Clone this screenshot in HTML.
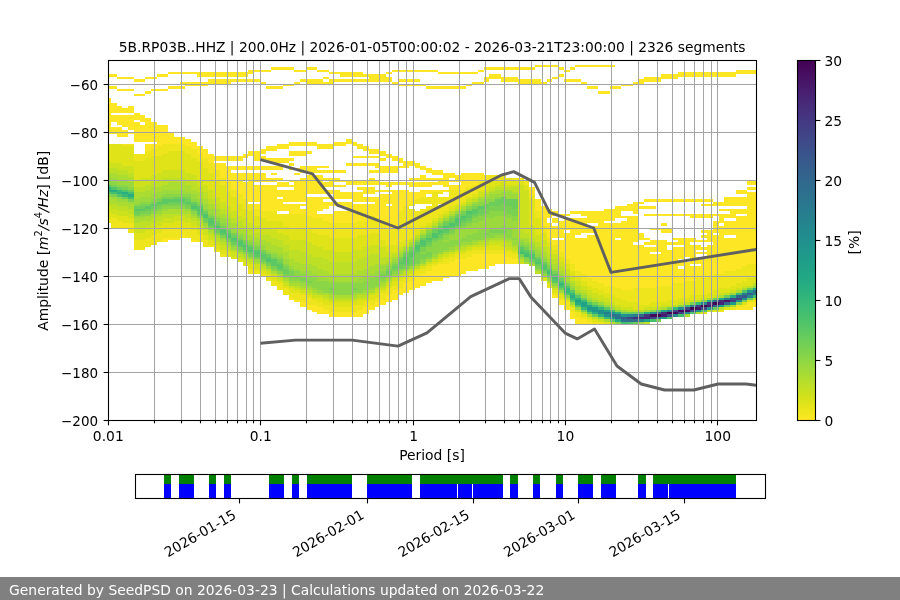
<!DOCTYPE html>
<html lang="en"><head><meta charset="utf-8"><title>SeedPSD PPSD</title>
<style>html,body{margin:0;padding:0;background:#fff;}body{width:900px;height:600px;overflow:hidden;}svg{display:block;will-change:transform;}text{font-family:'DejaVu Sans','Liberation Sans',sans-serif;font-size:13.89px;fill:#000;}</style>
</head><body>
<svg width="900" height="600" viewBox="0 0 900 600">
<rect x="0" y="0" width="900" height="600" fill="#ffffff"/>
<g shape-rendering="crispEdges">
<path fill="#fde725" d="M108 74h3v3h-3zM108 86h3v3h-3zM108 98h3v34h-3zM111 74h6v3h-6zM111 86h6v3h-6zM111 103h6v10h-6zM111 115h6v7h-6zM111 127h6v5h-6zM117 77h5v2h-5zM117 89h5v2h-5zM117 106h5v7h-5zM117 115h5v10h-5zM117 127h5v10h-5zM122 77h6v2h-6zM122 89h6v2h-6zM122 108h6v5h-6zM122 115h6v12h-6zM122 130h6v7h-6zM128 77h6v2h-6zM128 89h6v2h-6zM128 106h6v7h-6zM128 115h6v15h-6zM128 132h6v2h-6zM134 79h6v3h-6zM134 94h6v2h-6zM134 113h6v7h-6zM134 122h6v20h-6zM140 79h5v3h-5zM140 94h5v2h-5zM140 115h5v7h-5zM140 125h5v17h-5zM145 77h6v2h-6zM145 91h6v3h-6zM145 118h6v24h-6zM145 144h6v7h-6zM151 77h6v2h-6zM151 89h6v2h-6zM151 122h6v20h-6zM151 144h6v5h-6zM157 74h5v3h-5zM157 89h5v2h-5zM157 125h5v21h-5zM162 74h6v3h-6zM162 89h6v2h-6zM162 125h6v19h-6zM162 238h6v4h-6zM168 72h6v2h-6zM168 86h6v3h-6zM168 132h6v12h-6zM168 238h6v2h-6zM174 72h6v2h-6zM174 86h6v3h-6zM174 137h6v7h-6zM174 238h6v2h-6zM180 72h5v2h-5zM180 82h5v2h-5zM180 86h5v3h-5zM180 137h5v7h-5zM180 235h5v3h-5zM185 72h6v2h-6zM185 82h6v4h-6zM185 139h6v7h-6zM191 72h6v2h-6zM191 82h6v4h-6zM191 142h6v7h-6zM191 240h6v2h-6zM197 72h6v5h-6zM197 82h6v4h-6zM197 146h6v8h-6zM203 72h5v5h-5zM203 82h5v4h-5zM203 149h5v9h-5zM208 72h6v5h-6zM208 79h6v5h-6zM208 154h6v9h-6zM214 72h6v5h-6zM214 79h6v5h-6zM214 156h6v5h-6zM214 163h6v7h-6zM220 72h6v5h-6zM220 79h6v5h-6zM220 156h6v5h-6zM220 163h6v15h-6zM226 72h5v5h-5zM226 79h5v5h-5zM226 156h5v5h-5zM226 166h5v16h-5zM231 72h6v5h-6zM231 79h6v3h-6zM231 156h6v5h-6zM231 166h6v4h-6zM231 173h6v17h-6zM237 72h6v5h-6zM237 79h6v3h-6zM237 156h6v5h-6zM237 166h6v4h-6zM237 173h6v21h-6zM243 72h5v5h-5zM243 79h5v3h-5zM243 154h5v4h-5zM243 166h5v4h-5zM243 173h5v7h-5zM243 182h5v17h-5zM248 70h6v4h-6zM248 79h6v3h-6zM248 151h6v5h-6zM248 166h6v4h-6zM248 173h6v29h-6zM254 70h6v2h-6zM254 79h6v3h-6zM254 151h6v10h-6zM254 166h6v4h-6zM254 173h6v9h-6zM254 185h6v17h-6zM254 204h6v5h-6zM260 70h6v2h-6zM260 82h6v2h-6zM260 149h6v5h-6zM260 156h6v5h-6zM260 166h6v4h-6zM260 173h6v9h-6zM260 185h6v26h-6zM266 70h5v2h-5zM266 86h5v3h-5zM266 146h5v5h-5zM266 158h5v3h-5zM266 166h5v4h-5zM266 178h5v4h-5zM266 185h5v26h-5zM271 67h6v3h-6zM271 86h6v3h-6zM271 146h6v5h-6zM271 158h6v5h-6zM271 166h6v4h-6zM271 173h6v2h-6zM271 178h6v4h-6zM271 185h6v26h-6zM277 67h6v3h-6zM277 86h6v3h-6zM277 144h6v5h-6zM277 158h6v5h-6zM277 166h6v4h-6zM277 178h6v2h-6zM277 182h6v5h-6zM277 190h6v7h-6zM277 199h6v12h-6zM283 67h6v3h-6zM283 84h6v2h-6zM283 144h6v5h-6zM283 158h6v5h-6zM283 182h6v5h-6zM283 190h6v12h-6zM283 204h6v7h-6zM289 67h5v3h-5zM289 84h5v2h-5zM289 142h5v4h-5zM289 151h5v5h-5zM289 158h5v3h-5zM289 163h5v3h-5zM289 168h5v2h-5zM289 180h5v2h-5zM289 185h5v2h-5zM289 190h5v12h-5zM289 204h5v10h-5zM289 298h5v2h-5zM294 70h6v2h-6zM294 82h6v2h-6zM294 142h6v4h-6zM294 151h6v5h-6zM294 168h6v2h-6zM294 173h6v2h-6zM294 180h6v22h-6zM294 204h6v10h-6zM294 300h6v2h-6zM300 70h6v2h-6zM300 79h6v3h-6zM300 142h6v4h-6zM300 151h6v5h-6zM300 166h6v7h-6zM300 178h6v24h-6zM300 204h6v2h-6zM300 209h6v5h-6zM300 302h6v5h-6zM306 67h6v3h-6zM306 79h6v5h-6zM306 142h6v4h-6zM306 151h6v3h-6zM306 166h6v7h-6zM306 175h6v19h-6zM306 197h6v19h-6zM306 305h6v5h-6zM312 67h5v3h-5zM312 79h5v5h-5zM312 142h5v4h-5zM312 166h5v7h-5zM312 175h5v19h-5zM312 197h5v21h-5zM312 305h5v7h-5zM317 70h6v2h-6zM317 79h6v5h-6zM317 144h6v5h-6zM317 166h6v2h-6zM317 170h6v3h-6zM317 175h6v19h-6zM317 197h6v14h-6zM317 214h6v4h-6zM317 307h6v7h-6zM323 70h6v2h-6zM323 77h6v2h-6zM323 82h6v2h-6zM323 144h6v5h-6zM323 166h6v2h-6zM323 170h6v3h-6zM323 178h6v2h-6zM323 182h6v5h-6zM323 190h6v4h-6zM323 197h6v2h-6zM323 202h6v7h-6zM323 214h6v7h-6zM323 310h6v4h-6zM329 72h5v2h-5zM329 79h5v5h-5zM329 144h5v5h-5zM329 170h5v3h-5zM329 178h5v9h-5zM329 190h5v4h-5zM329 197h5v2h-5zM329 202h5v4h-5zM329 214h5v9h-5zM329 312h5v5h-5zM334 72h6v2h-6zM334 79h6v3h-6zM334 142h6v4h-6zM334 170h6v3h-6zM334 178h6v4h-6zM334 185h6v2h-6zM334 190h6v9h-6zM334 202h6v4h-6zM334 211h6v12h-6zM334 312h6v5h-6zM340 72h6v5h-6zM340 79h6v3h-6zM340 142h6v4h-6zM340 170h6v3h-6zM340 180h6v2h-6zM340 185h6v2h-6zM340 192h6v7h-6zM340 202h6v4h-6zM340 211h6v12h-6zM340 312h6v5h-6zM346 72h6v5h-6zM346 79h6v3h-6zM346 139h6v5h-6zM346 163h6v3h-6zM346 180h6v5h-6zM346 192h6v7h-6zM346 202h6v7h-6zM346 211h6v12h-6zM346 312h6v5h-6zM352 72h5v5h-5zM352 79h5v3h-5zM352 142h5v4h-5zM352 156h5v2h-5zM352 163h5v3h-5zM352 180h5v5h-5zM352 192h5v10h-5zM352 204h5v19h-5zM352 312h5v5h-5zM357 72h6v5h-6zM357 79h6v3h-6zM357 144h6v5h-6zM357 156h6v2h-6zM357 163h6v3h-6zM357 180h6v5h-6zM357 187h6v3h-6zM357 192h6v10h-6zM357 204h6v17h-6zM357 310h6v7h-6zM363 74h6v3h-6zM363 79h6v3h-6zM363 146h6v5h-6zM363 156h6v2h-6zM363 163h6v3h-6zM363 180h6v5h-6zM363 187h6v7h-6zM363 197h6v5h-6zM363 204h6v17h-6zM363 307h6v7h-6zM369 74h6v8h-6zM369 149h6v5h-6zM369 156h6v2h-6zM369 163h6v3h-6zM369 170h6v3h-6zM369 178h6v7h-6zM369 187h6v7h-6zM369 197h6v5h-6zM369 204h6v12h-6zM369 305h6v5h-6zM375 74h5v8h-5zM375 149h5v5h-5zM375 156h5v2h-5zM375 163h5v5h-5zM375 170h5v3h-5zM375 180h5v5h-5zM375 190h5v2h-5zM375 197h5v21h-5zM375 302h5v5h-5zM380 74h6v8h-6zM380 151h6v5h-6zM380 158h6v3h-6zM380 166h6v7h-6zM380 182h6v3h-6zM380 190h6v2h-6zM380 194h6v29h-6zM380 300h6v5h-6zM386 72h6v2h-6zM386 77h6v5h-6zM386 154h6v4h-6zM386 166h6v7h-6zM386 182h6v5h-6zM386 190h6v2h-6zM386 194h6v10h-6zM386 206h6v22h-6zM386 295h6v7h-6zM392 70h6v2h-6zM392 82h6v2h-6zM392 156h6v5h-6zM392 166h6v7h-6zM392 182h6v3h-6zM392 190h6v38h-6zM392 290h6v10h-6zM398 70h5v2h-5zM398 79h5v3h-5zM398 84h5v2h-5zM398 158h5v5h-5zM398 166h5v2h-5zM398 182h5v3h-5zM398 190h5v21h-5zM398 288h5v7h-5zM403 70h6v2h-6zM403 79h6v3h-6zM403 84h6v2h-6zM403 161h6v7h-6zM403 182h6v3h-6zM403 190h6v16h-6zM403 283h6v10h-6zM409 70h6v2h-6zM409 79h6v3h-6zM409 84h6v2h-6zM409 161h6v5h-6zM409 178h6v2h-6zM409 182h6v5h-6zM409 192h6v12h-6zM409 281h6v9h-6zM415 70h5v2h-5zM415 79h5v3h-5zM415 84h5v2h-5zM415 163h5v5h-5zM415 178h5v2h-5zM415 182h5v5h-5zM415 192h5v7h-5zM415 276h5v12h-5zM420 70h6v2h-6zM420 84h6v2h-6zM420 166h6v4h-6zM420 175h6v5h-6zM420 182h6v5h-6zM420 190h6v7h-6zM420 274h6v12h-6zM426 70h6v2h-6zM426 86h6v3h-6zM426 168h6v5h-6zM426 178h6v2h-6zM426 182h6v5h-6zM426 190h6v4h-6zM426 271h6v12h-6zM432 70h6v2h-6zM432 86h6v3h-6zM432 170h6v5h-6zM432 178h6v2h-6zM432 182h6v3h-6zM432 190h6v2h-6zM432 266h6v15h-6zM438 72h5v2h-5zM438 86h5v3h-5zM438 170h5v5h-5zM438 178h5v7h-5zM438 190h5v2h-5zM438 264h5v17h-5zM443 72h6v2h-6zM443 86h6v3h-6zM443 173h6v14h-6zM443 190h6v2h-6zM443 264h6v14h-6zM449 72h6v2h-6zM449 86h6v3h-6zM449 173h6v5h-6zM449 180h6v2h-6zM449 185h6v5h-6zM449 262h6v14h-6zM455 72h6v2h-6zM455 86h6v3h-6zM455 175h6v7h-6zM455 185h6v5h-6zM455 259h6v17h-6zM461 72h5v2h-5zM461 86h5v3h-5zM461 173h5v17h-5zM461 259h5v15h-5zM466 72h6v2h-6zM466 84h6v2h-6zM466 173h6v14h-6zM466 257h6v14h-6zM472 72h6v2h-6zM472 82h6v2h-6zM472 173h6v12h-6zM472 254h6v17h-6zM478 70h6v2h-6zM478 82h6v2h-6zM478 173h6v7h-6zM478 254h6v15h-6zM484 67h5v3h-5zM484 77h5v5h-5zM484 254h5v15h-5zM489 67h6v3h-6zM489 74h6v5h-6zM489 254h6v12h-6zM495 67h6v3h-6zM495 74h6v5h-6zM495 254h6v10h-6zM501 67h5v3h-5zM501 77h5v5h-5zM501 254h5v10h-5zM506 67h6v3h-6zM506 77h6v5h-6zM506 257h6v7h-6zM512 67h6v3h-6zM512 77h6v5h-6zM512 259h6v5h-6zM518 67h6v3h-6zM518 79h6v5h-6zM524 67h5v3h-5zM524 79h5v5h-5zM529 67h6v3h-6zM529 79h6v5h-6zM529 187h6v7h-6zM535 65h6v2h-6zM535 79h6v5h-6zM535 199h6v12h-6zM541 65h6v2h-6zM541 82h6v2h-6zM541 206h6v20h-6zM547 65h5v2h-5zM547 79h5v3h-5zM547 209h5v9h-5zM547 223h5v15h-5zM552 65h6v2h-6zM552 77h6v2h-6zM552 211h6v5h-6zM552 218h6v5h-6zM552 226h6v12h-6zM552 240h6v5h-6zM552 295h6v3h-6zM558 67h6v3h-6zM558 74h6v3h-6zM558 214h6v2h-6zM558 221h6v17h-6zM558 240h6v12h-6zM558 300h6v5h-6zM564 70h6v2h-6zM564 79h6v3h-6zM564 214h6v2h-6zM564 218h6v12h-6zM564 233h6v26h-6zM564 307h6v3h-6zM570 67h5v3h-5zM570 79h5v3h-5zM570 211h5v3h-5zM570 218h5v46h-5zM570 312h5v7h-5zM575 65h6v2h-6zM575 79h6v3h-6zM575 211h6v3h-6zM575 218h6v17h-6zM575 238h6v33h-6zM575 317h6v7h-6zM581 65h6v2h-6zM581 82h6v2h-6zM581 211h6v5h-6zM581 218h6v15h-6zM581 238h6v36h-6zM581 319h6v5h-6zM587 65h5v2h-5zM587 86h5v3h-5zM587 211h5v12h-5zM587 226h5v7h-5zM587 235h5v43h-5zM587 322h5v2h-5zM592 65h6v2h-6zM592 86h6v3h-6zM592 211h6v12h-6zM592 226h6v7h-6zM592 235h6v46h-6zM598 65h6v2h-6zM598 91h6v3h-6zM598 211h6v72h-6zM604 65h6v2h-6zM604 91h6v3h-6zM604 209h6v12h-6zM604 223h6v63h-6zM610 65h5v2h-5zM610 86h5v3h-5zM610 209h5v12h-5zM610 223h5v63h-5zM615 86h6v3h-6zM615 206h6v12h-6zM615 223h6v15h-6zM615 240h6v48h-6zM621 84h6v2h-6zM621 206h6v5h-6zM621 216h6v2h-6zM621 221h6v69h-6zM627 84h6v2h-6zM627 204h6v7h-6zM627 216h6v74h-6zM633 82h5v2h-5zM633 202h5v12h-5zM633 216h5v26h-5zM633 245h5v43h-5zM638 79h6v5h-6zM638 202h6v2h-6zM638 206h6v3h-6zM638 233h6v7h-6zM638 245h6v43h-6zM644 77h6v5h-6zM644 199h6v3h-6zM644 206h6v3h-6zM644 214h6v2h-6zM644 238h6v2h-6zM644 242h6v3h-6zM644 247h6v41h-6zM650 77h6v5h-6zM650 199h6v3h-6zM650 206h6v3h-6zM650 214h6v2h-6zM650 228h6v2h-6zM650 240h6v5h-6zM650 247h6v5h-6zM650 254h6v34h-6zM656 77h5v5h-5zM656 199h5v3h-5zM656 214h5v2h-5zM656 228h5v2h-5zM656 240h5v12h-5zM656 254h5v10h-5zM656 266h5v20h-5zM661 74h6v5h-6zM661 199h6v3h-6zM661 214h6v2h-6zM661 223h6v3h-6zM661 228h6v5h-6zM661 240h6v46h-6zM667 74h6v5h-6zM667 199h6v3h-6zM667 214h6v2h-6zM667 228h6v5h-6zM667 242h6v3h-6zM667 250h6v36h-6zM673 74h5v5h-5zM673 199h5v3h-5zM673 214h5v2h-5zM673 238h5v2h-5zM673 242h5v3h-5zM673 247h5v36h-5zM678 72h6v5h-6zM678 199h6v3h-6zM678 214h6v2h-6zM678 238h6v7h-6zM678 247h6v12h-6zM678 262h6v4h-6zM678 269h6v14h-6zM684 72h6v5h-6zM684 199h6v3h-6zM684 214h6v2h-6zM684 238h6v19h-6zM684 262h6v19h-6zM690 72h6v5h-6zM690 199h6v3h-6zM690 214h6v4h-6zM690 238h6v4h-6zM690 245h6v19h-6zM690 266h6v15h-6zM696 72h5v5h-5zM696 199h5v3h-5zM696 214h5v4h-5zM696 240h5v2h-5zM696 245h5v5h-5zM696 252h5v2h-5zM696 257h5v7h-5zM696 266h5v12h-5zM701 72h6v5h-6zM701 199h6v3h-6zM701 204h6v2h-6zM701 214h6v4h-6zM701 230h6v3h-6zM701 235h6v3h-6zM701 240h6v2h-6zM701 247h6v3h-6zM701 252h6v2h-6zM701 259h6v19h-6zM707 72h6v5h-6zM707 199h6v3h-6zM707 204h6v2h-6zM707 214h6v4h-6zM707 230h6v12h-6zM707 245h6v31h-6zM713 72h6v5h-6zM713 202h6v4h-6zM713 214h6v2h-6zM713 221h6v12h-6zM713 235h6v39h-6zM719 72h5v5h-5zM719 202h5v4h-5zM719 209h5v2h-5zM719 214h5v9h-5zM719 226h5v48h-5zM724 72h6v5h-6zM724 197h6v9h-6zM724 209h6v2h-6zM724 214h6v4h-6zM724 221h6v14h-6zM724 238h6v33h-6zM730 72h6v5h-6zM730 197h6v9h-6zM730 209h6v9h-6zM730 221h6v14h-6zM730 238h6v33h-6zM736 70h6v4h-6zM736 190h6v4h-6zM736 197h6v9h-6zM736 209h6v5h-6zM736 216h6v53h-6zM736 307h6v3h-6zM742 70h5v4h-5zM742 190h5v4h-5zM742 197h5v9h-5zM742 209h5v5h-5zM742 216h5v50h-5zM742 305h5v5h-5zM747 70h6v4h-6zM747 180h6v5h-6zM747 187h6v3h-6zM747 192h6v72h-6zM747 302h6v8h-6zM753 70h3v4h-3zM753 180h3v5h-3zM753 187h3v3h-3zM753 192h3v72h-3zM753 302h3v5h-3z"/>
<path fill="#efe51c" d="M108 132h3v2h-3zM108 218h3v5h-3zM111 132h6v2h-6zM111 218h6v10h-6zM117 221h5v7h-5zM122 144h6v2h-6zM122 223h6v5h-6zM128 144h6v2h-6zM128 223h6v10h-6zM134 154h6v7h-6zM134 240h6v10h-6zM140 154h5v7h-5zM140 240h5v10h-5zM145 151h6v7h-6zM145 238h6v9h-6zM151 149h6v7h-6zM151 235h6v10h-6zM157 146h5v10h-5zM157 233h5v9h-5zM162 144h6v10h-6zM162 228h6v10h-6zM168 144h6v7h-6zM168 228h6v10h-6zM174 144h6v7h-6zM174 228h6v10h-6zM180 144h5v7h-5zM180 228h5v7h-5zM185 146h6v8h-6zM185 228h6v10h-6zM191 149h6v9h-6zM191 230h6v10h-6zM197 154h6v7h-6zM197 235h6v7h-6zM203 158h5v10h-5zM203 240h5v7h-5zM208 163h6v10h-6zM208 245h6v2h-6zM214 170h6v10h-6zM214 250h6v2h-6zM220 178h6v7h-6zM220 254h6v3h-6zM226 182h5v10h-5zM231 190h6v7h-6zM237 194h6v10h-6zM243 199h5v10h-5zM248 204h6v7h-6zM248 269h6v5h-6zM254 209h6v7h-6zM254 271h6v3h-6zM260 211h6v7h-6zM260 274h6v2h-6zM266 211h5v10h-5zM266 278h5v3h-5zM271 211h6v10h-6zM271 281h6v5h-6zM277 214h6v7h-6zM277 283h6v7h-6zM283 214h6v12h-6zM283 288h6v7h-6zM289 214h5v14h-5zM289 293h5v5h-5zM294 214h6v14h-6zM294 293h6v7h-6zM300 214h6v14h-6zM300 295h6v7h-6zM306 216h6v14h-6zM306 298h6v7h-6zM312 218h5v15h-5zM312 300h5v5h-5zM317 218h6v17h-6zM317 302h6v5h-6zM323 221h6v14h-6zM323 305h6v5h-6zM329 223h5v15h-5zM329 305h5v7h-5zM334 223h6v15h-6zM334 307h6v5h-6zM340 223h6v15h-6zM340 307h6v5h-6zM346 223h6v15h-6zM346 307h6v5h-6zM352 223h5v15h-5zM352 305h5v7h-5zM357 221h6v14h-6zM357 305h6v5h-6zM363 221h6v14h-6zM363 302h6v5h-6zM369 216h6v17h-6zM369 300h6v5h-6zM375 218h5v15h-5zM375 298h5v4h-5zM380 223h6v17h-6zM380 293h6v7h-6zM386 228h6v17h-6zM386 288h6v7h-6zM392 228h6v17h-6zM392 286h6v4h-6zM398 211h5v31h-5zM398 281h5v7h-5zM403 206h6v34h-6zM403 278h6v5h-6zM409 204h6v2h-6zM409 209h6v29h-6zM409 276h6v5h-6zM415 199h5v5h-5zM415 211h5v19h-5zM415 271h5v5h-5zM420 197h6v7h-6zM420 209h6v17h-6zM420 269h6v5h-6zM426 197h6v7h-6zM426 206h6v17h-6zM426 266h6v5h-6zM432 192h6v26h-6zM432 264h6v2h-6zM438 192h5v2h-5zM438 197h5v7h-5zM438 206h5v8h-5zM438 262h5v2h-5zM443 197h6v14h-6zM443 259h6v5h-6zM449 190h6v16h-6zM449 257h6v5h-6zM455 190h6v14h-6zM455 254h6v5h-6zM461 190h5v12h-5zM461 254h5v5h-5zM466 187h6v10h-6zM466 252h6v5h-6zM472 185h6v9h-6zM472 250h6v4h-6zM478 180h6v10h-6zM478 250h6v4h-6zM484 175h5v10h-5zM484 250h5v4h-5zM489 175h6v7h-6zM489 250h6v4h-6zM495 175h6v5h-6zM495 250h6v4h-6zM501 175h5v3h-5zM501 250h5v4h-5zM506 252h6v5h-6zM512 178h6v2h-6zM512 254h6v5h-6zM518 178h6v2h-6zM524 180h5v5h-5zM529 194h6v5h-6zM535 211h6v7h-6zM541 226h6v7h-6zM547 238h5v4h-5zM547 286h5v2h-5zM552 245h6v5h-6zM552 293h6v2h-6zM558 252h6v5h-6zM558 298h6v2h-6zM564 259h6v5h-6zM564 302h6v5h-6zM570 264h5v7h-5zM570 307h5v5h-5zM575 271h6v5h-6zM575 312h6v5h-6zM581 274h6v7h-6zM581 317h6v2h-6zM587 278h5v8h-5zM587 319h5v3h-5zM592 281h6v7h-6zM592 322h6v2h-6zM598 283h6v7h-6zM598 322h6v2h-6zM604 286h6v7h-6zM610 286h5v9h-5zM615 288h6v10h-6zM621 290h6v10h-6zM627 290h6v12h-6zM633 288h5v14h-5zM638 288h6v17h-6zM644 288h6v17h-6zM650 288h6v14h-6zM656 286h5v16h-5zM661 286h6v16h-6zM667 286h6v14h-6zM673 283h5v17h-5zM678 283h6v15h-6zM684 281h6v17h-6zM690 281h6v14h-6zM696 278h5v17h-5zM701 278h6v17h-6zM707 276h6v17h-6zM713 274h6v16h-6zM719 274h5v14h-5zM719 310h5v2h-5zM724 271h6v17h-6zM730 271h6v15h-6zM730 307h6v3h-6zM736 269h6v14h-6zM736 305h6v2h-6zM742 266h5v15h-5zM747 264h6v14h-6zM753 264h3v12h-3zM753 300h3v2h-3z"/>
<path fill="#dfe318" d="M108 144h3v17h-3zM108 211h3v7h-3zM111 144h6v19h-6zM111 214h6v4h-6zM117 144h5v19h-5zM117 216h5v5h-5zM122 146h6v20h-6zM122 216h6v7h-6zM128 146h6v20h-6zM128 218h6v5h-6zM134 161h6v19h-6zM134 233h6v7h-6zM140 161h5v17h-5zM140 233h5v7h-5zM145 158h6v20h-6zM145 230h6v8h-6zM151 156h6v19h-6zM151 228h6v7h-6zM157 156h5v17h-5zM157 226h5v7h-5zM162 154h6v16h-6zM162 223h6v5h-6zM168 151h6v19h-6zM168 223h6v5h-6zM174 151h6v19h-6zM174 221h6v7h-6zM180 151h5v19h-5zM180 221h5v7h-5zM185 154h6v19h-6zM185 223h6v5h-6zM191 158h6v17h-6zM191 226h6v4h-6zM197 161h6v19h-6zM197 230h6v5h-6zM203 168h5v17h-5zM203 235h5v5h-5zM208 173h6v17h-6zM208 240h6v5h-6zM214 180h6v17h-6zM214 245h6v5h-6zM220 185h6v17h-6zM220 250h6v4h-6zM226 192h5v14h-5zM226 252h5v5h-5zM231 197h6v14h-6zM231 257h6v2h-6zM237 204h6v12h-6zM237 259h6v3h-6zM243 209h5v9h-5zM243 262h5v4h-5zM248 211h6v12h-6zM248 264h6v5h-6zM254 216h6v10h-6zM254 269h6v2h-6zM260 218h6v10h-6zM260 271h6v3h-6zM266 221h5v7h-5zM266 274h5v4h-5zM271 221h6v9h-6zM271 276h6v5h-6zM277 221h6v12h-6zM277 281h6v2h-6zM283 226h6v9h-6zM283 286h6v2h-6zM289 228h5v12h-5zM289 288h5v5h-5zM294 228h6v12h-6zM294 290h6v3h-6zM300 228h6v12h-6zM300 293h6v2h-6zM306 230h6v12h-6zM306 295h6v3h-6zM312 233h5v12h-5zM312 298h5v2h-5zM317 235h6v12h-6zM317 298h6v4h-6zM323 235h6v15h-6zM323 300h6v5h-6zM329 238h5v12h-5zM329 302h5v3h-5zM334 238h6v14h-6zM334 302h6v5h-6zM340 238h6v14h-6zM340 302h6v5h-6zM346 238h6v14h-6zM346 302h6v5h-6zM352 238h5v12h-5zM352 302h5v3h-5zM357 235h6v15h-6zM357 300h6v5h-6zM363 235h6v12h-6zM363 300h6v2h-6zM369 233h6v12h-6zM369 295h6v5h-6zM375 233h5v12h-5zM375 293h5v5h-5zM380 240h6v7h-6zM380 290h6v3h-6zM386 245h6v7h-6zM386 286h6v2h-6zM392 245h6v7h-6zM392 281h6v5h-6zM398 242h5v5h-5zM398 278h5v3h-5zM403 240h6v5h-6zM403 276h6v2h-6zM409 238h6v2h-6zM409 274h6v2h-6zM415 230h5v5h-5zM415 269h5v2h-5zM420 226h6v4h-6zM420 266h6v3h-6zM426 223h6v3h-6zM426 264h6v2h-6zM432 218h6v3h-6zM432 262h6v2h-6zM438 214h5v4h-5zM438 259h5v3h-5zM443 211h6v3h-6zM443 257h6v2h-6zM449 206h6v5h-6zM449 254h6v3h-6zM455 204h6v2h-6zM455 252h6v2h-6zM461 202h5v2h-5zM461 252h5v2h-5zM466 197h6v2h-6zM466 250h6v2h-6zM472 194h6v3h-6zM472 247h6v3h-6zM478 190h6v2h-6zM478 247h6v3h-6zM484 185h5v5h-5zM484 247h5v3h-5zM489 182h6v5h-6zM489 245h6v5h-6zM495 180h6v5h-6zM495 245h6v5h-6zM501 178h5v4h-5zM501 247h5v3h-5zM506 178h6v7h-6zM506 250h6v2h-6zM512 180h6v5h-6zM512 252h6v2h-6zM518 180h6v5h-6zM524 185h5v5h-5zM529 199h6v27h-6zM535 218h6v17h-6zM541 233h6v7h-6zM541 278h6v3h-6zM547 242h5v5h-5zM547 283h5v3h-5zM552 250h6v4h-6zM552 290h6v3h-6zM558 257h6v5h-6zM558 295h6v3h-6zM564 264h6v5h-6zM564 300h6v2h-6zM570 271h5v5h-5zM575 276h6v5h-6zM581 281h6v5h-6zM581 314h6v3h-6zM587 286h5v4h-5zM587 317h5v2h-5zM592 288h6v5h-6zM592 319h6v3h-6zM598 290h6v5h-6zM604 293h6v5h-6zM604 322h6v2h-6zM610 295h5v7h-5zM615 298h6v7h-6zM621 300h6v7h-6zM627 302h6v5h-6zM633 302h5v8h-5zM638 305h6v5h-6zM644 305h6v2h-6zM650 302h6v5h-6zM656 302h5v5h-5zM661 302h6v3h-6zM667 300h6v5h-6zM673 300h5v5h-5zM678 298h6v4h-6zM684 298h6v4h-6zM690 295h6v5h-6zM696 295h5v5h-5zM701 295h6v3h-6zM701 312h6v2h-6zM707 293h6v5h-6zM713 290h6v5h-6zM713 310h6v2h-6zM719 288h5v5h-5zM724 288h6v5h-6zM724 307h6v3h-6zM730 286h6v4h-6zM736 283h6v5h-6zM742 281h5v5h-5zM742 302h5v3h-5zM747 278h6v8h-6zM747 300h6v2h-6zM753 276h3v7h-3z"/>
<path fill="#cde11d" d="M108 161h3v7h-3zM108 206h3v5h-3zM111 163h6v5h-6zM111 209h6v5h-6zM117 163h5v7h-5zM117 211h5v5h-5zM122 166h6v4h-6zM122 211h6v5h-6zM128 166h6v7h-6zM128 214h6v4h-6zM134 180h6v7h-6zM134 228h6v5h-6zM140 178h5v9h-5zM140 228h5v5h-5zM145 178h6v7h-6zM145 226h6v4h-6zM151 175h6v7h-6zM151 223h6v5h-6zM157 173h5v7h-5zM157 221h5v5h-5zM162 170h6v8h-6zM162 218h6v5h-6zM168 170h6v8h-6zM168 218h6v5h-6zM174 170h6v8h-6zM174 216h6v5h-6zM180 170h5v8h-5zM180 216h5v5h-5zM185 173h6v7h-6zM185 218h6v5h-6zM191 175h6v7h-6zM191 221h6v5h-6zM197 180h6v7h-6zM197 226h6v4h-6zM203 185h5v7h-5zM203 230h5v5h-5zM208 190h6v9h-6zM208 235h6v5h-6zM214 197h6v7h-6zM214 242h6v3h-6zM220 202h6v7h-6zM220 245h6v5h-6zM226 206h5v8h-5zM226 250h5v2h-5zM231 211h6v7h-6zM231 252h6v5h-6zM237 216h6v5h-6zM237 257h6v2h-6zM243 218h5v8h-5zM243 259h5v3h-5zM248 223h6v5h-6zM248 262h6v2h-6zM254 226h6v7h-6zM254 264h6v5h-6zM260 228h6v7h-6zM260 269h6v2h-6zM266 228h5v7h-5zM266 271h5v3h-5zM271 230h6v8h-6zM271 274h6v2h-6zM277 233h6v7h-6zM277 278h6v3h-6zM283 235h6v10h-6zM283 283h6v3h-6zM289 240h5v10h-5zM289 286h5v2h-5zM294 240h6v10h-6zM294 288h6v2h-6zM300 240h6v12h-6zM300 290h6v3h-6zM306 242h6v12h-6zM306 293h6v2h-6zM312 245h5v12h-5zM312 295h5v3h-5zM317 247h6v10h-6zM317 295h6v3h-6zM323 250h6v9h-6zM323 298h6v2h-6zM329 250h5v12h-5zM329 300h5v2h-5zM334 252h6v10h-6zM334 300h6v2h-6zM340 252h6v10h-6zM340 300h6v2h-6zM346 252h6v10h-6zM346 300h6v2h-6zM352 250h5v12h-5zM352 300h5v2h-5zM357 250h6v9h-6zM357 298h6v2h-6zM363 247h6v10h-6zM363 298h6v2h-6zM369 245h6v9h-6zM369 293h6v2h-6zM375 245h5v9h-5zM375 290h5v3h-5zM380 247h6v10h-6zM380 288h6v2h-6zM386 252h6v5h-6zM386 283h6v3h-6zM392 252h6v2h-6zM392 278h6v3h-6zM398 247h5v3h-5zM398 276h5v2h-5zM403 245h6v2h-6zM403 274h6v2h-6zM409 240h6v2h-6zM409 271h6v3h-6zM426 226h6v2h-6zM426 262h6v2h-6zM432 221h6v2h-6zM432 259h6v3h-6zM438 257h5v2h-5zM443 214h6v2h-6zM443 254h6v3h-6zM449 252h6v2h-6zM455 206h6v3h-6zM455 250h6v2h-6zM461 204h5v2h-5zM461 250h5v2h-5zM466 199h6v3h-6zM466 247h6v3h-6zM472 197h6v2h-6zM472 245h6v2h-6zM478 192h6v5h-6zM478 245h6v2h-6zM484 190h5v2h-5zM484 245h5v2h-5zM489 187h6v3h-6zM489 242h6v3h-6zM495 185h6v2h-6zM495 242h6v3h-6zM501 182h5v5h-5zM501 242h5v5h-5zM506 185h6v2h-6zM506 247h6v3h-6zM512 185h6v2h-6zM512 250h6v2h-6zM518 185h6v45h-6zM518 262h6v2h-6zM524 190h5v43h-5zM529 226h6v12h-6zM535 235h6v7h-6zM541 240h6v7h-6zM547 247h5v7h-5zM552 254h6v5h-6zM552 288h6v2h-6zM558 262h6v4h-6zM558 293h6v2h-6zM564 269h6v5h-6zM570 276h5v5h-5zM570 305h5v2h-5zM575 281h6v5h-6zM575 310h6v2h-6zM581 286h6v4h-6zM587 290h5v5h-5zM592 293h6v5h-6zM598 295h6v5h-6zM598 319h6v3h-6zM604 298h6v4h-6zM610 302h5v3h-5zM615 305h6v2h-6zM621 307h6v3h-6zM627 307h6v3h-6zM644 307h6v3h-6zM650 307h6v3h-6zM661 305h6v2h-6zM667 305h6v2h-6zM678 302h6v3h-6zM690 300h6v2h-6zM701 298h6v2h-6zM713 295h6v3h-6zM719 293h5v2h-5zM730 290h6v3h-6zM736 288h6v2h-6zM742 286h5v2h-5z"/>
<path fill="#bddf26" d="M108 168h3v5h-3zM108 204h3v2h-3zM111 168h6v5h-6zM111 204h6v5h-6zM117 170h5v5h-5zM117 206h5v5h-5zM122 170h6v5h-6zM122 206h6v5h-6zM128 173h6v5h-6zM128 209h6v5h-6zM134 187h6v5h-6zM134 223h6v5h-6zM140 187h5v5h-5zM140 221h5v7h-5zM145 185h6v5h-6zM145 221h6v5h-6zM151 182h6v5h-6zM151 218h6v5h-6zM157 180h5v7h-5zM157 216h5v5h-5zM162 178h6v7h-6zM162 214h6v4h-6zM168 178h6v4h-6zM168 214h6v4h-6zM174 178h6v4h-6zM174 214h6v2h-6zM180 178h5v4h-5zM180 214h5v2h-5zM185 180h6v5h-6zM185 214h6v4h-6zM191 182h6v8h-6zM191 218h6v3h-6zM197 187h6v5h-6zM197 221h6v5h-6zM203 192h5v7h-5zM203 228h5v2h-5zM208 199h6v5h-6zM208 233h6v2h-6zM214 204h6v5h-6zM214 238h6v4h-6zM220 209h6v5h-6zM220 242h6v3h-6zM226 214h5v4h-5zM226 247h5v3h-5zM231 218h6v5h-6zM231 250h6v2h-6zM237 221h6v7h-6zM237 254h6v3h-6zM243 226h5v4h-5zM243 257h5v2h-5zM248 228h6v7h-6zM248 259h6v3h-6zM254 233h6v5h-6zM260 235h6v5h-6zM260 266h6v3h-6zM266 235h5v7h-5zM266 269h5v2h-5zM271 238h6v7h-6zM277 240h6v7h-6zM277 276h6v2h-6zM283 245h6v7h-6zM283 281h6v2h-6zM289 250h5v9h-5zM294 250h6v12h-6zM294 286h6v2h-6zM300 252h6v12h-6zM300 288h6v2h-6zM306 254h6v10h-6zM306 290h6v3h-6zM312 257h5v9h-5zM312 293h5v2h-5zM317 257h6v12h-6zM323 259h6v12h-6zM323 295h6v3h-6zM329 262h5v12h-5zM329 298h5v2h-5zM334 262h6v12h-6zM334 298h6v2h-6zM340 262h6v12h-6zM340 298h6v2h-6zM346 262h6v12h-6zM346 298h6v2h-6zM352 262h5v12h-5zM352 298h5v2h-5zM357 259h6v12h-6zM357 295h6v3h-6zM363 257h6v12h-6zM363 295h6v3h-6zM369 254h6v12h-6zM375 254h5v10h-5zM375 288h5v2h-5zM380 257h6v7h-6zM380 286h6v2h-6zM386 257h6v5h-6zM386 281h6v2h-6zM392 254h6v3h-6zM392 276h6v2h-6zM398 250h5v2h-5zM398 274h5v2h-5zM403 271h6v3h-6zM409 269h6v2h-6zM415 235h5v3h-5zM415 266h5v3h-5zM420 230h6v3h-6zM420 264h6v2h-6zM432 223h6v3h-6zM438 218h5v3h-5zM438 254h5v3h-5zM443 216h6v2h-6zM443 252h6v2h-6zM449 211h6v3h-6zM455 209h6v2h-6zM461 247h5v3h-5zM466 202h6v2h-6zM466 245h6v2h-6zM472 199h6v3h-6zM478 242h6v3h-6zM484 192h5v2h-5zM484 242h5v3h-5zM489 190h6v2h-6zM489 240h6v2h-6zM495 187h6v3h-6zM495 240h6v2h-6zM501 187h5v3h-5zM501 240h5v2h-5zM506 187h6v3h-6zM506 242h6v5h-6zM512 187h6v5h-6zM512 247h6v3h-6zM518 230h6v8h-6zM518 259h6v3h-6zM524 233h5v5h-5zM529 238h6v4h-6zM535 242h6v5h-6zM535 271h6v3h-6zM541 247h6v5h-6zM541 276h6v2h-6zM547 254h5v5h-5zM547 281h5v2h-5zM552 259h6v5h-6zM558 266h6v5h-6zM564 274h6v2h-6zM564 298h6v2h-6zM570 281h5v2h-5zM575 286h6v4h-6zM581 290h6v3h-6zM581 312h6v2h-6zM587 295h5v3h-5zM592 298h6v2h-6zM592 317h6v2h-6zM598 300h6v2h-6zM604 302h6v3h-6zM610 305h5v2h-5zM610 322h5v2h-5zM615 307h6v3h-6zM627 310h6v2h-6zM633 310h5v2h-5zM638 310h6v2h-6zM644 322h6v2h-6zM656 307h5v3h-5zM673 305h5v2h-5zM684 302h6v3h-6zM696 300h5v2h-5zM707 310h6v2h-6zM719 307h5v3h-5zM724 293h6v2h-6zM747 286h6v2h-6zM753 283h3v3h-3zM753 298h3v2h-3z"/>
<path fill="#aadc32" d="M108 173h3v2h-3zM108 197h3v7h-3zM111 173h6v5h-6zM111 199h6v5h-6zM117 175h5v5h-5zM117 202h5v4h-5zM122 175h6v5h-6zM122 202h6v4h-6zM128 178h6v4h-6zM128 204h6v5h-6zM134 192h6v7h-6zM134 218h6v5h-6zM140 192h5v5h-5zM140 218h5v3h-5zM145 190h6v7h-6zM145 216h6v5h-6zM151 187h6v7h-6zM151 214h6v4h-6zM157 187h5v5h-5zM157 214h5v2h-5zM162 185h6v5h-6zM162 211h6v3h-6zM168 182h6v8h-6zM168 209h6v5h-6zM174 182h6v8h-6zM174 209h6v5h-6zM180 182h5v8h-5zM180 209h5v5h-5zM185 185h6v7h-6zM185 211h6v3h-6zM191 190h6v4h-6zM191 216h6v2h-6zM197 192h6v7h-6zM197 218h6v3h-6zM203 199h5v5h-5zM203 226h5v2h-5zM208 204h6v5h-6zM208 230h6v3h-6zM214 209h6v7h-6zM214 235h6v3h-6zM220 214h6v4h-6zM220 240h6v2h-6zM226 218h5v5h-5zM226 245h5v2h-5zM231 223h6v5h-6zM237 228h6v5h-6zM237 252h6v2h-6zM243 230h5v5h-5zM243 254h5v3h-5zM248 235h6v5h-6zM254 238h6v4h-6zM254 262h6v2h-6zM260 240h6v5h-6zM260 264h6v2h-6zM266 242h5v8h-5zM271 245h6v7h-6zM271 271h6v3h-6zM277 247h6v7h-6zM277 274h6v2h-6zM283 252h6v7h-6zM283 278h6v3h-6zM289 259h5v7h-5zM289 283h5v3h-5zM294 262h6v7h-6zM294 283h6v3h-6zM300 264h6v7h-6zM300 286h6v2h-6zM306 264h6v7h-6zM306 288h6v2h-6zM312 266h5v8h-5zM312 290h5v3h-5zM317 269h6v7h-6zM317 293h6v2h-6zM323 271h6v7h-6zM323 293h6v2h-6zM329 274h5v7h-5zM329 295h5v3h-5zM334 274h6v7h-6zM334 295h6v3h-6zM340 274h6v7h-6zM340 295h6v3h-6zM346 274h6v7h-6zM346 295h6v3h-6zM352 274h5v7h-5zM352 295h5v3h-5zM357 271h6v7h-6zM357 293h6v2h-6zM363 269h6v7h-6zM363 293h6v2h-6zM369 266h6v8h-6zM369 290h6v3h-6zM375 264h5v7h-5zM380 264h6v2h-6zM380 283h6v3h-6zM386 262h6v2h-6zM386 278h6v3h-6zM392 257h6v2h-6zM398 252h5v2h-5zM403 247h6v3h-6zM409 242h6v3h-6zM415 238h5v2h-5zM420 233h6v2h-6zM426 228h6v2h-6zM426 259h6v3h-6zM432 257h6v2h-6zM438 221h5v2h-5zM449 214h6v2h-6zM449 250h6v2h-6zM455 247h6v3h-6zM461 206h5v3h-5zM461 245h5v2h-5zM466 204h6v2h-6zM472 242h6v3h-6zM478 197h6v2h-6zM478 240h6v2h-6zM484 194h5v3h-5zM484 240h5v2h-5zM489 192h6v2h-6zM489 238h6v2h-6zM495 190h6v4h-6zM495 238h6v2h-6zM501 190h5v2h-5zM501 238h5v2h-5zM506 190h6v2h-6zM506 240h6v2h-6zM512 192h6v2h-6zM512 245h6v2h-6zM518 238h6v2h-6zM524 238h5v4h-5zM524 262h5v2h-5zM529 242h6v3h-6zM529 264h6v2h-6zM535 247h6v3h-6zM541 252h6v5h-6zM547 259h5v3h-5zM552 264h6v5h-6zM552 286h6v2h-6zM558 271h6v3h-6zM564 276h6v5h-6zM570 283h5v3h-5zM575 290h6v3h-6zM581 293h6v2h-6zM587 298h5v2h-5zM587 314h5v3h-5zM592 300h6v2h-6zM604 319h6v3h-6zM621 310h6v2h-6zM644 310h6v2h-6zM661 307h6v3h-6zM684 314h6v3h-6zM696 312h5v2h-5zM707 298h6v2h-6zM719 295h5v3h-5zM730 305h6v2h-6zM736 290h6v3h-6zM742 288h5v2h-5z"/>
<path fill="#9bd93c" d="M108 175h3v5h-3zM111 178h6v4h-6zM111 197h6v2h-6zM117 180h5v5h-5zM117 199h5v3h-5zM122 180h6v5h-6zM122 199h6v3h-6zM128 182h6v5h-6zM128 202h6v2h-6zM134 199h6v5h-6zM134 216h6v2h-6zM140 197h5v5h-5zM140 216h5v2h-5zM145 197h6v5h-6zM151 194h6v5h-6zM157 192h5v5h-5zM157 211h5v3h-5zM162 190h6v4h-6zM162 209h6v2h-6zM168 190h6v4h-6zM174 190h6v4h-6zM180 190h5v4h-5zM185 192h6v2h-6zM185 209h6v2h-6zM191 194h6v5h-6zM191 214h6v2h-6zM197 199h6v3h-6zM203 204h5v5h-5zM203 223h5v3h-5zM208 209h6v5h-6zM214 216h6v2h-6zM220 218h6v5h-6zM220 238h6v2h-6zM226 223h5v5h-5zM226 242h5v3h-5zM231 228h6v5h-6zM231 247h6v3h-6zM237 233h6v2h-6zM243 235h5v5h-5zM248 240h6v2h-6zM248 257h6v2h-6zM254 242h6v3h-6zM254 259h6v3h-6zM260 245h6v5h-6zM266 250h5v2h-5zM266 266h5v3h-5zM271 252h6v2h-6zM277 254h6v3h-6zM283 259h6v5h-6zM289 266h5v3h-5zM289 281h5v2h-5zM294 269h6v2h-6zM294 281h6v2h-6zM300 271h6v3h-6zM300 283h6v3h-6zM306 271h6v5h-6zM306 286h6v2h-6zM312 274h5v4h-5zM312 288h5v2h-5zM317 276h6v5h-6zM317 290h6v3h-6zM323 278h6v3h-6zM329 281h5v2h-5zM329 293h5v2h-5zM334 281h6v2h-6zM340 281h6v2h-6zM346 281h6v2h-6zM352 281h5v2h-5zM352 293h5v2h-5zM357 278h6v5h-6zM363 276h6v5h-6zM363 290h6v3h-6zM369 274h6v4h-6zM369 288h6v2h-6zM375 271h5v5h-5zM375 286h5v2h-5zM380 266h6v5h-6zM380 281h6v2h-6zM386 264h6v2h-6zM392 259h6v3h-6zM392 274h6v2h-6zM398 254h5v3h-5zM398 271h5v3h-5zM403 250h6v2h-6zM403 269h6v2h-6zM409 245h6v2h-6zM409 266h6v3h-6zM415 264h5v2h-5zM420 262h6v2h-6zM432 226h6v2h-6zM432 254h6v3h-6zM438 252h5v2h-5zM443 218h6v3h-6zM443 240h6v2h-6zM443 250h6v2h-6zM449 235h6v5h-6zM449 247h6v3h-6zM455 211h6v3h-6zM455 230h6v10h-6zM455 245h6v2h-6zM461 209h5v2h-5zM461 228h5v10h-5zM461 242h5v3h-5zM466 226h6v9h-6zM466 242h6v3h-6zM472 202h6v2h-6zM472 223h6v10h-6zM472 240h6v2h-6zM478 199h6v3h-6zM478 221h6v9h-6zM484 197h5v2h-5zM484 218h5v12h-5zM484 238h5v2h-5zM489 194h6v5h-6zM489 218h6v10h-6zM495 194h6v3h-6zM495 216h6v12h-6zM495 235h6v3h-6zM501 192h5v5h-5zM501 216h5v10h-5zM501 235h5v3h-5zM506 192h6v7h-6zM506 218h6v10h-6zM506 238h6v2h-6zM512 194h6v5h-6zM512 221h6v17h-6zM512 240h6v5h-6zM518 240h6v2h-6zM518 257h6v2h-6zM524 242h5v3h-5zM529 245h6v5h-6zM535 250h6v4h-6zM535 269h6v2h-6zM541 257h6v2h-6zM541 274h6v2h-6zM547 262h5v2h-5zM547 278h5v3h-5zM552 269h6v2h-6zM558 274h6v2h-6zM558 290h6v3h-6zM564 281h6v2h-6zM570 286h5v2h-5zM570 302h5v3h-5zM575 307h6v3h-6zM581 295h6v3h-6zM598 302h6v3h-6zM604 305h6v2h-6zM610 307h5v3h-5zM638 322h6v2h-6zM730 293h6v2h-6z"/>
<path fill="#8bd646" d="M108 180h3v5h-3zM108 194h3v3h-3zM111 182h6v3h-6zM117 185h5v2h-5zM117 197h5v2h-5zM122 185h6v2h-6zM128 187h6v3h-6zM134 204h6v2h-6zM140 202h5v2h-5zM140 214h5v2h-5zM145 202h6v2h-6zM145 214h6v2h-6zM151 199h6v3h-6zM151 211h6v3h-6zM157 197h5v2h-5zM157 209h5v2h-5zM162 194h6v3h-6zM162 206h6v3h-6zM168 194h6v3h-6zM168 206h6v3h-6zM174 194h6v3h-6zM174 206h6v3h-6zM180 194h5v3h-5zM180 206h5v3h-5zM185 194h6v3h-6zM191 199h6v3h-6zM191 211h6v3h-6zM197 202h6v2h-6zM197 216h6v2h-6zM203 209h5v2h-5zM208 214h6v2h-6zM208 228h6v2h-6zM214 218h6v3h-6zM214 233h6v2h-6zM220 223h6v3h-6zM226 228h5v2h-5zM231 245h6v2h-6zM237 235h6v3h-6zM237 250h6v2h-6zM243 252h5v2h-5zM248 242h6v3h-6zM254 245h6v2h-6zM260 262h6v2h-6zM266 252h5v2h-5zM271 254h6v3h-6zM271 269h6v2h-6zM277 257h6v2h-6zM277 271h6v3h-6zM283 264h6v2h-6zM283 276h6v2h-6zM289 269h5v2h-5zM289 278h5v3h-5zM294 271h6v5h-6zM294 278h6v3h-6zM300 274h6v4h-6zM300 281h6v2h-6zM306 276h6v5h-6zM306 283h6v3h-6zM312 278h5v10h-5zM317 281h6v9h-6zM323 281h6v12h-6zM329 283h5v5h-5zM329 290h5v3h-5zM334 283h6v12h-6zM340 283h6v12h-6zM346 283h6v12h-6zM352 283h5v5h-5zM352 290h5v3h-5zM357 283h6v10h-6zM363 281h6v9h-6zM369 278h6v10h-6zM375 276h5v10h-5zM380 271h6v3h-6zM380 278h6v3h-6zM386 266h6v3h-6zM386 276h6v2h-6zM392 262h6v2h-6zM392 271h6v3h-6zM398 269h5v2h-5zM415 240h5v2h-5zM420 235h6v3h-6zM420 252h6v2h-6zM420 259h6v3h-6zM426 230h6v3h-6zM426 247h6v5h-6zM426 257h6v2h-6zM432 242h6v12h-6zM438 223h5v3h-5zM438 240h5v12h-5zM443 235h6v5h-6zM443 242h6v8h-6zM449 216h6v2h-6zM449 233h6v2h-6zM449 240h6v7h-6zM455 228h6v2h-6zM455 240h6v5h-6zM461 226h5v2h-5zM461 238h5v4h-5zM466 206h6v3h-6zM466 223h6v3h-6zM466 235h6v7h-6zM472 204h6v2h-6zM472 218h6v5h-6zM472 233h6v7h-6zM478 202h6v4h-6zM478 216h6v5h-6zM478 230h6v10h-6zM484 199h5v5h-5zM484 214h5v4h-5zM484 230h5v3h-5zM484 235h5v3h-5zM489 199h6v3h-6zM489 211h6v7h-6zM489 228h6v2h-6zM489 233h6v5h-6zM495 197h6v2h-6zM495 211h6v5h-6zM495 228h6v2h-6zM495 233h6v2h-6zM501 211h5v5h-5zM501 226h5v4h-5zM501 233h5v2h-5zM506 214h6v4h-6zM506 228h6v10h-6zM512 216h6v5h-6zM512 238h6v2h-6zM518 242h6v3h-6zM524 245h5v2h-5zM524 259h5v3h-5zM529 262h6v2h-6zM535 254h6v3h-6zM541 259h6v3h-6zM547 264h5v2h-5zM552 283h6v3h-6zM558 276h6v2h-6zM564 295h6v3h-6zM570 288h5v2h-5zM575 293h6v2h-6zM587 300h5v2h-5zM598 317h6v2h-6zM615 310h6v2h-6zM615 322h6v2h-6zM650 310h6v2h-6zM678 305h6v2h-6zM701 300h6v2h-6zM736 302h6v3h-6zM753 286h3v2h-3z"/>
<path fill="#7ad151" d="M111 185h6v2h-6zM111 194h6v3h-6zM122 187h6v3h-6zM128 199h6v3h-6zM134 214h6v2h-6zM140 204h5v2h-5zM140 211h5v3h-5zM145 204h6v2h-6zM145 211h6v3h-6zM151 202h6v2h-6zM151 209h6v2h-6zM157 199h5v3h-5zM157 206h5v3h-5zM162 197h6v2h-6zM162 204h6v2h-6zM168 197h6v2h-6zM168 204h6v2h-6zM174 204h6v2h-6zM180 204h5v2h-5zM185 197h6v2h-6zM185 206h6v3h-6zM197 204h6v2h-6zM203 221h5v2h-5zM208 216h6v2h-6zM208 226h6v2h-6zM214 221h6v2h-6zM220 226h6v2h-6zM220 235h6v3h-6zM226 240h5v2h-5zM231 233h6v2h-6zM237 238h6v2h-6zM237 247h6v3h-6zM243 240h5v2h-5zM248 254h6v3h-6zM254 247h6v3h-6zM254 257h6v2h-6zM260 250h6v2h-6zM266 264h5v2h-5zM271 257h6v2h-6zM271 266h6v3h-6zM277 259h6v3h-6zM283 266h6v3h-6zM283 274h6v2h-6zM289 271h5v7h-5zM294 276h6v2h-6zM300 278h6v3h-6zM306 281h6v2h-6zM329 288h5v2h-5zM352 288h5v2h-5zM380 274h6v4h-6zM386 269h6v2h-6zM386 274h6v2h-6zM392 264h6v2h-6zM392 269h6v2h-6zM398 257h5v2h-5zM403 252h6v2h-6zM403 266h6v3h-6zM409 247h6v3h-6zM409 264h6v2h-6zM415 254h5v10h-5zM420 247h6v5h-6zM420 254h6v5h-6zM426 233h6v2h-6zM426 245h6v2h-6zM426 252h6v5h-6zM432 228h6v2h-6zM432 240h6v2h-6zM438 238h5v2h-5zM443 221h6v2h-6zM443 233h6v2h-6zM449 218h6v3h-6zM449 230h6v3h-6zM455 214h6v2h-6zM455 226h6v2h-6zM461 211h5v3h-5zM461 223h5v3h-5zM466 209h6v2h-6zM466 221h6v2h-6zM472 206h6v3h-6zM472 216h6v2h-6zM478 214h6v2h-6zM484 209h5v5h-5zM484 233h5v2h-5zM489 206h6v5h-6zM489 230h6v3h-6zM495 206h6v5h-6zM495 230h6v3h-6zM501 204h5v7h-5zM501 230h5v3h-5zM506 206h6v8h-6zM512 209h6v7h-6zM518 245h6v2h-6zM518 254h6v3h-6zM524 247h5v3h-5zM524 257h5v2h-5zM529 250h6v2h-6zM535 266h6v3h-6zM541 271h6v3h-6zM547 266h5v3h-5zM552 271h6v3h-6zM564 283h6v3h-6zM581 310h6v2h-6zM592 302h6v3h-6zM656 319h5v3h-5zM667 307h6v3h-6zM690 302h6v3h-6zM742 300h5v2h-5z"/>
<path fill="#6ccd5a" d="M117 187h5v3h-5zM122 197h6v2h-6zM128 190h6v2h-6zM134 206h6v3h-6zM134 211h6v3h-6zM140 206h5v3h-5zM145 209h6v2h-6zM151 206h6v3h-6zM157 204h5v2h-5zM168 202h6v2h-6zM174 197h6v2h-6zM174 202h6v2h-6zM180 197h5v2h-5zM180 202h5v2h-5zM185 199h6v3h-6zM185 204h6v2h-6zM191 202h6v2h-6zM191 209h6v2h-6zM197 214h6v2h-6zM203 211h5v3h-5zM203 218h5v3h-5zM214 223h6v3h-6zM214 230h6v3h-6zM226 230h5v3h-5zM226 238h5v2h-5zM231 235h6v3h-6zM231 242h6v3h-6zM243 242h5v3h-5zM243 250h5v2h-5zM248 245h6v2h-6zM248 252h6v2h-6zM260 252h6v2h-6zM260 259h6v3h-6zM266 254h5v3h-5zM266 262h5v2h-5zM277 262h6v2h-6zM277 269h6v2h-6zM283 269h6v5h-6zM386 271h6v3h-6zM392 266h6v3h-6zM398 259h5v3h-5zM398 264h5v5h-5zM403 254h6v3h-6zM403 264h6v2h-6zM409 250h6v2h-6zM409 257h6v7h-6zM415 242h5v3h-5zM415 252h5v2h-5zM420 238h6v2h-6zM426 235h6v3h-6zM426 242h6v3h-6zM432 230h6v3h-6zM432 238h6v2h-6zM438 226h5v4h-5zM438 235h5v3h-5zM443 223h6v3h-6zM449 221h6v2h-6zM449 228h6v2h-6zM455 216h6v2h-6zM461 214h5v2h-5zM461 221h5v2h-5zM466 218h6v3h-6zM472 214h6v2h-6zM478 209h6v5h-6zM484 204h5v5h-5zM489 202h6v4h-6zM495 199h6v7h-6zM501 197h5v7h-5zM506 199h6v7h-6zM512 199h6v10h-6zM529 252h6v2h-6zM529 259h6v3h-6zM535 257h6v2h-6zM535 264h6v2h-6zM541 262h6v2h-6zM547 276h5v2h-5zM558 278h6v3h-6zM558 288h6v2h-6zM581 298h6v2h-6zM592 314h6v3h-6zM598 305h6v2h-6zM621 312h6v2h-6zM627 312h6v2h-6zM633 312h5v2h-5zM633 322h5v2h-5zM713 298h6v2h-6zM713 307h6v3h-6zM724 295h6v3h-6zM724 305h6v2h-6zM747 288h6v2h-6zM747 298h6v2h-6z"/>
<path fill="#5cc863" d="M108 185h3v2h-3zM108 192h3v2h-3zM134 209h6v2h-6zM140 209h5v2h-5zM145 206h6v3h-6zM151 204h6v2h-6zM157 202h5v2h-5zM162 199h6v5h-6zM168 199h6v3h-6zM174 199h6v3h-6zM180 199h5v3h-5zM185 202h6v2h-6zM191 204h6v2h-6zM197 206h6v3h-6zM197 211h6v3h-6zM208 218h6v3h-6zM208 223h6v3h-6zM214 228h6v2h-6zM220 228h6v2h-6zM220 233h6v2h-6zM226 233h5v2h-5zM231 240h6v2h-6zM237 240h6v2h-6zM237 245h6v2h-6zM243 247h5v3h-5zM248 247h6v3h-6zM254 250h6v2h-6zM254 254h6v3h-6zM260 254h6v5h-6zM266 257h5v2h-5zM271 259h6v7h-6zM277 264h6v5h-6zM398 262h5v2h-5zM403 257h6v7h-6zM409 252h6v5h-6zM415 250h5v2h-5zM420 245h6v2h-6zM426 240h6v2h-6zM438 233h5v2h-5zM443 230h6v3h-6zM449 226h6v2h-6zM455 223h6v3h-6zM461 218h5v3h-5zM466 214h6v4h-6zM472 209h6v5h-6zM478 206h6v3h-6zM518 247h6v3h-6zM524 250h5v2h-5zM535 259h6v3h-6zM541 264h6v2h-6zM541 269h6v2h-6zM547 269h5v2h-5zM547 274h5v2h-5zM552 274h6v2h-6zM552 281h6v2h-6zM570 290h5v3h-5zM570 300h5v2h-5zM575 295h6v3h-6zM587 312h5v2h-5zM604 307h6v3h-6zM610 319h5v3h-5zM638 312h6v2h-6zM656 310h5v2h-5z"/>
<path fill="#50c46a" d="M111 187h6v3h-6zM117 194h5v3h-5zM122 190h6v2h-6zM191 206h6v3h-6zM197 209h6v2h-6zM203 214h5v4h-5zM208 221h6v2h-6zM214 226h6v2h-6zM220 230h6v3h-6zM226 235h5v3h-5zM231 238h6v2h-6zM237 242h6v3h-6zM243 245h5v2h-5zM248 250h6v2h-6zM254 252h6v2h-6zM266 259h5v3h-5zM415 245h5v5h-5zM420 240h6v5h-6zM426 238h6v2h-6zM432 233h6v5h-6zM438 230h5v3h-5zM443 226h6v4h-6zM449 223h6v3h-6zM455 218h6v5h-6zM461 216h5v2h-5zM466 211h6v3h-6zM518 250h6v2h-6zM524 252h5v2h-5zM529 254h6v5h-6zM535 262h6v2h-6zM541 266h6v3h-6zM552 278h6v3h-6zM558 281h6v2h-6zM558 286h6v2h-6zM564 286h6v2h-6zM564 293h6v2h-6zM575 305h6v2h-6zM587 302h5v3h-5zM627 322h6v2h-6zM667 317h6v2h-6zM690 312h6v2h-6zM701 310h6v2h-6zM742 290h5v3h-5z"/>
<path fill="#44bf70" d="M111 192h6v2h-6zM128 192h6v2h-6zM128 197h6v2h-6zM518 252h6v2h-6zM524 254h5v3h-5zM547 271h5v3h-5zM552 276h6v2h-6zM592 305h6v2h-6zM610 310h5v2h-5zM621 322h6v2h-6zM650 319h6v3h-6zM678 314h6v3h-6zM753 295h3v3h-3z"/>
<path fill="#38b977" d="M117 190h5v2h-5zM122 194h6v3h-6zM558 283h6v3h-6zM564 288h6v5h-6zM570 293h5v2h-5zM570 298h5v2h-5zM581 300h6v2h-6zM581 307h6v3h-6zM604 317h6v2h-6zM673 307h5v3h-5zM684 305h6v2h-6zM696 302h5v3h-5zM736 293h6v2h-6z"/>
<path fill="#2fb47c" d="M108 187h3v5h-3zM117 192h5v2h-5zM575 298h6v2h-6zM598 307h6v3h-6zM598 314h6v3h-6z"/>
<path fill="#27ad81" d="M111 190h6v2h-6zM122 192h6v2h-6zM128 194h6v3h-6zM570 295h5v3h-5zM575 302h6v3h-6zM592 312h6v2h-6zM615 312h6v2h-6zM644 312h6v2h-6zM707 300h6v2h-6zM730 295h6v3h-6z"/>
<path fill="#22a884" d="M587 305h5v2h-5zM587 310h5v2h-5zM615 319h6v3h-6zM661 310h6v2h-6zM719 298h5v2h-5zM753 288h3v2h-3z"/>
<path fill="#1fa287" d="M575 300h6v2h-6zM581 302h6v5h-6zM604 310h6v2h-6zM644 319h6v3h-6zM719 305h5v2h-5z"/>
<path fill="#1e9c89" d="M592 307h6v3h-6zM661 317h6v2h-6zM707 307h6v3h-6zM730 302h6v3h-6z"/>
<path fill="#1f968b" d="M587 307h5v3h-5zM592 310h6v2h-6zM610 317h5v2h-5zM621 314h6v3h-6zM747 290h6v3h-6z"/>
<path fill="#21908d" d="M598 310h6v4h-6zM604 314h6v3h-6zM610 312h5v2h-5zM696 310h5v2h-5zM736 300h6v2h-6zM742 298h5v2h-5z"/>
<path fill="#238a8d" d="M627 314h6v3h-6zM650 312h6v2h-6zM673 314h5v3h-5zM678 307h6v3h-6zM684 312h6v2h-6zM747 295h6v3h-6z"/>
<path fill="#25848e" d="M638 319h6v3h-6zM701 302h6v3h-6zM753 293h3v2h-3z"/>
<path fill="#277e8e" d="M604 312h6v2h-6zM633 314h5v3h-5zM667 310h6v2h-6zM690 305h6v2h-6zM742 293h5v2h-5z"/>
<path fill="#2a788e" d="M615 314h6v3h-6zM724 298h6v2h-6z"/>
<path fill="#2c718e" d="M610 314h5v3h-5zM615 317h6v2h-6zM621 319h6v3h-6zM753 290h3v3h-3z"/>
<path fill="#2f6c8e" d="M627 319h6v3h-6zM633 319h5v3h-5zM656 317h5v2h-5zM713 300h6v2h-6z"/>
<path fill="#31668e" d="M638 314h6v3h-6zM656 312h5v2h-5zM713 305h6v2h-6zM724 302h6v3h-6zM736 295h6v3h-6z"/>
<path fill="#355f8d" d="M747 293h6v2h-6z"/>
<path fill="#38598c" d="M621 317h6v2h-6zM742 295h5v3h-5z"/>
<path fill="#3b518b" d="M667 314h6v3h-6zM690 310h6v2h-6z"/>
<path fill="#3e4a89" d="M701 307h6v3h-6zM730 298h6v2h-6z"/>
<path fill="#414487" d="M627 317h6v2h-6zM650 317h6v2h-6zM673 310h5v2h-5zM678 312h6v2h-6zM684 307h6v3h-6zM736 298h6v2h-6z"/>
<path fill="#443b84" d="M696 305h5v2h-5zM730 300h6v2h-6z"/>
<path fill="#463480" d="M644 314h6v3h-6zM707 302h6v3h-6z"/>
<path fill="#472c7a" d="M633 317h5v2h-5zM661 312h6v2h-6zM719 300h5v2h-5z"/>
<path fill="#482475" d="M638 317h6v2h-6zM644 317h6v2h-6zM719 302h5v3h-5z"/>
<path fill="#481c6e" d="M661 314h6v3h-6zM707 305h6v2h-6z"/>
<path fill="#471365" d="M696 307h5v3h-5zM724 300h6v2h-6z"/>
<path fill="#460a5d" d="M650 314h6v3h-6zM673 312h5v2h-5zM678 310h6v2h-6zM684 310h6v2h-6z"/>
<path fill="#440154" d="M656 314h5v3h-5zM667 312h6v2h-6zM690 307h6v3h-6zM701 305h6v2h-6zM713 302h6v3h-6z"/>
</g>
<g stroke="#a4a4a4" stroke-width="1" fill="none">
<line x1="154.5" y1="60.5" x2="154.5" y2="420.5"/>
<line x1="181.5" y1="60.5" x2="181.5" y2="420.5"/>
<line x1="200.5" y1="60.5" x2="200.5" y2="420.5"/>
<line x1="215.5" y1="60.5" x2="215.5" y2="420.5"/>
<line x1="227.5" y1="60.5" x2="227.5" y2="420.5"/>
<line x1="237.5" y1="60.5" x2="237.5" y2="420.5"/>
<line x1="246.5" y1="60.5" x2="246.5" y2="420.5"/>
<line x1="253.5" y1="60.5" x2="253.5" y2="420.5"/>
<line x1="260.5" y1="60.5" x2="260.5" y2="420.5"/>
<line x1="306.5" y1="60.5" x2="306.5" y2="420.5"/>
<line x1="333.5" y1="60.5" x2="333.5" y2="420.5"/>
<line x1="352.5" y1="60.5" x2="352.5" y2="420.5"/>
<line x1="367.5" y1="60.5" x2="367.5" y2="420.5"/>
<line x1="379.5" y1="60.5" x2="379.5" y2="420.5"/>
<line x1="389.5" y1="60.5" x2="389.5" y2="420.5"/>
<line x1="398.5" y1="60.5" x2="398.5" y2="420.5"/>
<line x1="406.5" y1="60.5" x2="406.5" y2="420.5"/>
<line x1="413.5" y1="60.5" x2="413.5" y2="420.5"/>
<line x1="459.5" y1="60.5" x2="459.5" y2="420.5"/>
<line x1="485.5" y1="60.5" x2="485.5" y2="420.5"/>
<line x1="504.5" y1="60.5" x2="504.5" y2="420.5"/>
<line x1="519.5" y1="60.5" x2="519.5" y2="420.5"/>
<line x1="531.5" y1="60.5" x2="531.5" y2="420.5"/>
<line x1="542.5" y1="60.5" x2="542.5" y2="420.5"/>
<line x1="550.5" y1="60.5" x2="550.5" y2="420.5"/>
<line x1="558.5" y1="60.5" x2="558.5" y2="420.5"/>
<line x1="565.5" y1="60.5" x2="565.5" y2="420.5"/>
<line x1="611.5" y1="60.5" x2="611.5" y2="420.5"/>
<line x1="638.5" y1="60.5" x2="638.5" y2="420.5"/>
<line x1="657.5" y1="60.5" x2="657.5" y2="420.5"/>
<line x1="672.5" y1="60.5" x2="672.5" y2="420.5"/>
<line x1="684.5" y1="60.5" x2="684.5" y2="420.5"/>
<line x1="694.5" y1="60.5" x2="694.5" y2="420.5"/>
<line x1="703.5" y1="60.5" x2="703.5" y2="420.5"/>
<line x1="711.5" y1="60.5" x2="711.5" y2="420.5"/>
<line x1="717.5" y1="60.5" x2="717.5" y2="420.5"/>
<line x1="108.5" y1="372.5" x2="756.5" y2="372.5"/>
<line x1="108.5" y1="324.5" x2="756.5" y2="324.5"/>
<line x1="108.5" y1="276.5" x2="756.5" y2="276.5"/>
<line x1="108.5" y1="228.5" x2="756.5" y2="228.5"/>
<line x1="108.5" y1="180.5" x2="756.5" y2="180.5"/>
<line x1="108.5" y1="132.5" x2="756.5" y2="132.5"/>
<line x1="108.5" y1="84.5" x2="756.5" y2="84.5"/>
</g>
<g stroke="#606060" stroke-width="2.9" fill="none" stroke-linejoin="round" stroke-linecap="butt">
<polyline points="260.4,159.6 312.5,173.8 337.3,205.2 398.0,228.0 501.1,175.2 513.7,171.6 534.5,182.4 549.5,212.4 593.7,228.0 611.0,272.4 756.0,249.5"/>
<polyline points="260.4,343.2 295.5,340.1 352.1,340.1 398.0,346.1 427.0,332.9 470.7,296.6 509.3,278.6 519.2,278.6 531.3,297.6 565.1,333.1 577.2,338.9 594.5,329.0 617.0,366.0 641.2,384.0 664.6,390.0 693.9,390.0 718.1,384.0 746.0,384.0 756.0,385.2"/>
</g>
<g stroke="#000" stroke-width="1.1" fill="none">
<rect x="108.5" y="60.5" width="648" height="360"/>
<line x1="108.5" y1="420.5" x2="108.5" y2="425.36"/>
<line x1="154.5" y1="420.5" x2="154.5" y2="423.28"/>
<line x1="181.5" y1="420.5" x2="181.5" y2="423.28"/>
<line x1="200.5" y1="420.5" x2="200.5" y2="423.28"/>
<line x1="215.5" y1="420.5" x2="215.5" y2="423.28"/>
<line x1="227.5" y1="420.5" x2="227.5" y2="423.28"/>
<line x1="237.5" y1="420.5" x2="237.5" y2="423.28"/>
<line x1="246.5" y1="420.5" x2="246.5" y2="423.28"/>
<line x1="253.5" y1="420.5" x2="253.5" y2="423.28"/>
<line x1="260.5" y1="420.5" x2="260.5" y2="425.36"/>
<line x1="306.5" y1="420.5" x2="306.5" y2="423.28"/>
<line x1="333.5" y1="420.5" x2="333.5" y2="423.28"/>
<line x1="352.5" y1="420.5" x2="352.5" y2="423.28"/>
<line x1="367.5" y1="420.5" x2="367.5" y2="423.28"/>
<line x1="379.5" y1="420.5" x2="379.5" y2="423.28"/>
<line x1="389.5" y1="420.5" x2="389.5" y2="423.28"/>
<line x1="398.5" y1="420.5" x2="398.5" y2="423.28"/>
<line x1="406.5" y1="420.5" x2="406.5" y2="423.28"/>
<line x1="413.5" y1="420.5" x2="413.5" y2="425.36"/>
<line x1="459.5" y1="420.5" x2="459.5" y2="423.28"/>
<line x1="485.5" y1="420.5" x2="485.5" y2="423.28"/>
<line x1="504.5" y1="420.5" x2="504.5" y2="423.28"/>
<line x1="519.5" y1="420.5" x2="519.5" y2="423.28"/>
<line x1="531.5" y1="420.5" x2="531.5" y2="423.28"/>
<line x1="542.5" y1="420.5" x2="542.5" y2="423.28"/>
<line x1="550.5" y1="420.5" x2="550.5" y2="423.28"/>
<line x1="558.5" y1="420.5" x2="558.5" y2="423.28"/>
<line x1="565.5" y1="420.5" x2="565.5" y2="425.36"/>
<line x1="611.5" y1="420.5" x2="611.5" y2="423.28"/>
<line x1="638.5" y1="420.5" x2="638.5" y2="423.28"/>
<line x1="657.5" y1="420.5" x2="657.5" y2="423.28"/>
<line x1="672.5" y1="420.5" x2="672.5" y2="423.28"/>
<line x1="684.5" y1="420.5" x2="684.5" y2="423.28"/>
<line x1="694.5" y1="420.5" x2="694.5" y2="423.28"/>
<line x1="703.5" y1="420.5" x2="703.5" y2="423.28"/>
<line x1="711.5" y1="420.5" x2="711.5" y2="423.28"/>
<line x1="717.5" y1="420.5" x2="717.5" y2="425.36"/>
<line x1="108.5" y1="420.5" x2="103.64" y2="420.5"/>
<line x1="108.5" y1="372.5" x2="103.64" y2="372.5"/>
<line x1="108.5" y1="324.5" x2="103.64" y2="324.5"/>
<line x1="108.5" y1="276.5" x2="103.64" y2="276.5"/>
<line x1="108.5" y1="228.5" x2="103.64" y2="228.5"/>
<line x1="108.5" y1="180.5" x2="103.64" y2="180.5"/>
<line x1="108.5" y1="132.5" x2="103.64" y2="132.5"/>
<line x1="108.5" y1="84.5" x2="103.64" y2="84.5"/>
</g>
<text x="108.3" y="440.6" text-anchor="middle">0.01</text>
<text x="260.7" y="440.6" text-anchor="middle">0.1</text>
<text x="413.7" y="440.6" text-anchor="middle">1</text>
<text x="565.4" y="440.6" text-anchor="middle">10</text>
<text x="717.8" y="440.6" text-anchor="middle">100</text>
<text x="98.1" y="425.6" text-anchor="end" textLength="37.1" lengthAdjust="spacingAndGlyphs">−200</text>
<text x="98.1" y="377.6" text-anchor="end" textLength="37.1" lengthAdjust="spacingAndGlyphs">−180</text>
<text x="98.1" y="329.6" text-anchor="end" textLength="37.1" lengthAdjust="spacingAndGlyphs">−160</text>
<text x="98.1" y="281.6" text-anchor="end" textLength="37.1" lengthAdjust="spacingAndGlyphs">−140</text>
<text x="98.1" y="233.6" text-anchor="end" textLength="37.1" lengthAdjust="spacingAndGlyphs">−120</text>
<text x="98.1" y="185.6" text-anchor="end" textLength="37.1" lengthAdjust="spacingAndGlyphs">−100</text>
<text x="98.1" y="137.6" text-anchor="end" textLength="28.4" lengthAdjust="spacingAndGlyphs">−80</text>
<text x="98.1" y="89.6" text-anchor="end" textLength="28.4" lengthAdjust="spacingAndGlyphs">−60</text>
<text x="432" y="459.6" text-anchor="middle">Period [s]</text>
<text x="432.2" y="52" text-anchor="middle" style="font-size:13.82px">5B.RP03B..HHZ | 200.0Hz | 2026-01-05T00:00:02 - 2026-03-21T23:00:00 | 2326 segments</text>
<text transform="translate(47.5,240.8) rotate(-90)" text-anchor="middle">Amplitude [<tspan font-style="italic">m</tspan><tspan font-size="9.72px" dy="-5.3">2</tspan><tspan dy="5.3" font-style="italic">/s</tspan><tspan font-size="9.72px" dy="-5.3">4</tspan><tspan dy="5.3" font-style="italic">/Hz</tspan>] [dB]</text>
<defs><linearGradient id="cb" x1="0" y1="1" x2="0" y2="0">
<stop offset="0.0000" stop-color="#fde725"/>
<stop offset="0.0312" stop-color="#eae51a"/>
<stop offset="0.0625" stop-color="#d5e21a"/>
<stop offset="0.0938" stop-color="#c0df25"/>
<stop offset="0.1250" stop-color="#aadc32"/>
<stop offset="0.1562" stop-color="#95d840"/>
<stop offset="0.1875" stop-color="#81d34d"/>
<stop offset="0.2188" stop-color="#6ece58"/>
<stop offset="0.2500" stop-color="#5cc863"/>
<stop offset="0.2812" stop-color="#4cc26c"/>
<stop offset="0.3125" stop-color="#3dbc74"/>
<stop offset="0.3438" stop-color="#31b57b"/>
<stop offset="0.3750" stop-color="#27ad81"/>
<stop offset="0.4062" stop-color="#21a685"/>
<stop offset="0.4375" stop-color="#1f9f88"/>
<stop offset="0.4688" stop-color="#1f978b"/>
<stop offset="0.5000" stop-color="#21908d"/>
<stop offset="0.5312" stop-color="#23888e"/>
<stop offset="0.5625" stop-color="#26818e"/>
<stop offset="0.5938" stop-color="#29798e"/>
<stop offset="0.6250" stop-color="#2c718e"/>
<stop offset="0.6562" stop-color="#306a8e"/>
<stop offset="0.6875" stop-color="#33628d"/>
<stop offset="0.7188" stop-color="#375a8c"/>
<stop offset="0.7500" stop-color="#3b518b"/>
<stop offset="0.7812" stop-color="#3f4889"/>
<stop offset="0.8125" stop-color="#423f85"/>
<stop offset="0.8438" stop-color="#453581"/>
<stop offset="0.8750" stop-color="#472c7a"/>
<stop offset="0.9062" stop-color="#482173"/>
<stop offset="0.9375" stop-color="#481769"/>
<stop offset="0.9688" stop-color="#460b5e"/>
<stop offset="1.0000" stop-color="#440154"/>
</linearGradient></defs>
<rect x="797.5" y="60.5" width="18" height="360" fill="url(#cb)" stroke="#000" stroke-width="1.1"/>
<g stroke="#000" stroke-width="1.1">
<line x1="815.5" y1="420.5" x2="820.4" y2="420.5"/>
<line x1="815.5" y1="360.5" x2="820.4" y2="360.5"/>
<line x1="815.5" y1="300.5" x2="820.4" y2="300.5"/>
<line x1="815.5" y1="240.5" x2="820.4" y2="240.5"/>
<line x1="815.5" y1="180.5" x2="820.4" y2="180.5"/>
<line x1="815.5" y1="120.5" x2="820.4" y2="120.5"/>
<line x1="815.5" y1="60.5" x2="820.4" y2="60.5"/>
</g>
<text x="824.4" y="425.6">0</text>
<text x="824.4" y="365.6">5</text>
<text x="824.4" y="305.6">10</text>
<text x="824.4" y="245.6">15</text>
<text x="824.4" y="185.6">20</text>
<text x="824.4" y="125.6">25</text>
<text x="824.4" y="65.6">30</text>
<text transform="translate(859,242.4) rotate(-90)" text-anchor="middle">[%]</text>
<g shape-rendering="crispEdges">
<rect x="164.00" y="474" width="7.00" height="9.8" fill="#008000"/>
<rect x="164.00" y="483.7" width="7.00" height="14.3" fill="#0000ff"/>
<rect x="179.25" y="474" width="14.75" height="9.8" fill="#008000"/>
<rect x="179.25" y="483.7" width="14.75" height="14.3" fill="#0000ff"/>
<rect x="209.00" y="474" width="7.00" height="9.8" fill="#008000"/>
<rect x="209.00" y="483.7" width="7.00" height="14.3" fill="#0000ff"/>
<rect x="224.00" y="474" width="7.00" height="9.8" fill="#008000"/>
<rect x="224.00" y="483.7" width="7.00" height="14.3" fill="#0000ff"/>
<rect x="269.25" y="474" width="14.75" height="9.8" fill="#008000"/>
<rect x="269.25" y="483.7" width="14.75" height="14.3" fill="#0000ff"/>
<rect x="292.00" y="474" width="7.00" height="9.8" fill="#008000"/>
<rect x="292.00" y="483.7" width="7.00" height="14.3" fill="#0000ff"/>
<rect x="307.25" y="474" width="44.50" height="9.8" fill="#008000"/>
<rect x="307.25" y="483.7" width="44.50" height="14.3" fill="#0000ff"/>
<rect x="367.00" y="474" width="44.75" height="9.8" fill="#008000"/>
<rect x="367.00" y="483.7" width="44.75" height="14.3" fill="#0000ff"/>
<rect x="420.00" y="474" width="82.75" height="9.8" fill="#008000"/>
<rect x="420.00" y="483.7" width="82.75" height="14.3" fill="#0000ff"/>
<rect x="510.25" y="474" width="7.50" height="9.8" fill="#008000"/>
<rect x="510.25" y="483.7" width="7.50" height="14.3" fill="#0000ff"/>
<rect x="533.00" y="474" width="6.75" height="9.8" fill="#008000"/>
<rect x="533.00" y="483.7" width="6.75" height="14.3" fill="#0000ff"/>
<rect x="556.25" y="474" width="6.75" height="9.8" fill="#008000"/>
<rect x="556.25" y="483.7" width="6.75" height="14.3" fill="#0000ff"/>
<rect x="578.25" y="474" width="14.75" height="9.8" fill="#008000"/>
<rect x="578.25" y="483.7" width="14.75" height="14.3" fill="#0000ff"/>
<rect x="601.25" y="474" width="14.50" height="9.8" fill="#008000"/>
<rect x="601.25" y="483.7" width="14.50" height="14.3" fill="#0000ff"/>
<rect x="638.25" y="474" width="7.50" height="9.8" fill="#008000"/>
<rect x="638.25" y="483.7" width="7.50" height="14.3" fill="#0000ff"/>
<rect x="653.25" y="474" width="82.50" height="9.8" fill="#008000"/>
<rect x="653.25" y="483.7" width="82.50" height="14.3" fill="#0000ff"/>
<rect x="457.05" y="483.7" width="0.9" height="14.3" fill="#ffffff"/>
<rect x="472.30" y="483.7" width="0.9" height="14.3" fill="#ffffff"/>
<rect x="668.30" y="483.7" width="0.9" height="14.3" fill="#ffffff"/>
</g>
<g stroke="#000" stroke-width="1.1" fill="none">
<rect x="135.5" y="474.5" width="630" height="24"/>
<line x1="239.5" y1="498.5" x2="239.5" y2="503.4"/>
<line x1="367.5" y1="498.5" x2="367.5" y2="503.4"/>
<line x1="473.5" y1="498.5" x2="473.5" y2="503.4"/>
<line x1="578.5" y1="498.5" x2="578.5" y2="503.4"/>
<line x1="684.5" y1="498.5" x2="684.5" y2="503.4"/>
</g>
<text transform="translate(237.0,517.7) rotate(-30)" text-anchor="end" textLength="79.6" lengthAdjust="spacingAndGlyphs">2026-01-15</text>
<text transform="translate(365.1,517.7) rotate(-30)" text-anchor="end" textLength="79.6" lengthAdjust="spacingAndGlyphs">2026-02-01</text>
<text transform="translate(470.6,517.7) rotate(-30)" text-anchor="end" textLength="79.6" lengthAdjust="spacingAndGlyphs">2026-02-15</text>
<text transform="translate(576.1,517.7) rotate(-30)" text-anchor="end" textLength="79.6" lengthAdjust="spacingAndGlyphs">2026-03-01</text>
<text transform="translate(681.6,517.7) rotate(-30)" text-anchor="end" textLength="79.6" lengthAdjust="spacingAndGlyphs">2026-03-15</text>
<rect x="0" y="577" width="900" height="23" fill="#808080"/>
<text x="9.1" y="595" fill="#ffffff" style="fill:#fff;font-size:13.87px">Generated by SeedPSD on 2026-03-23 | Calculations updated on 2026-03-22</text>
</svg>
</body></html>
